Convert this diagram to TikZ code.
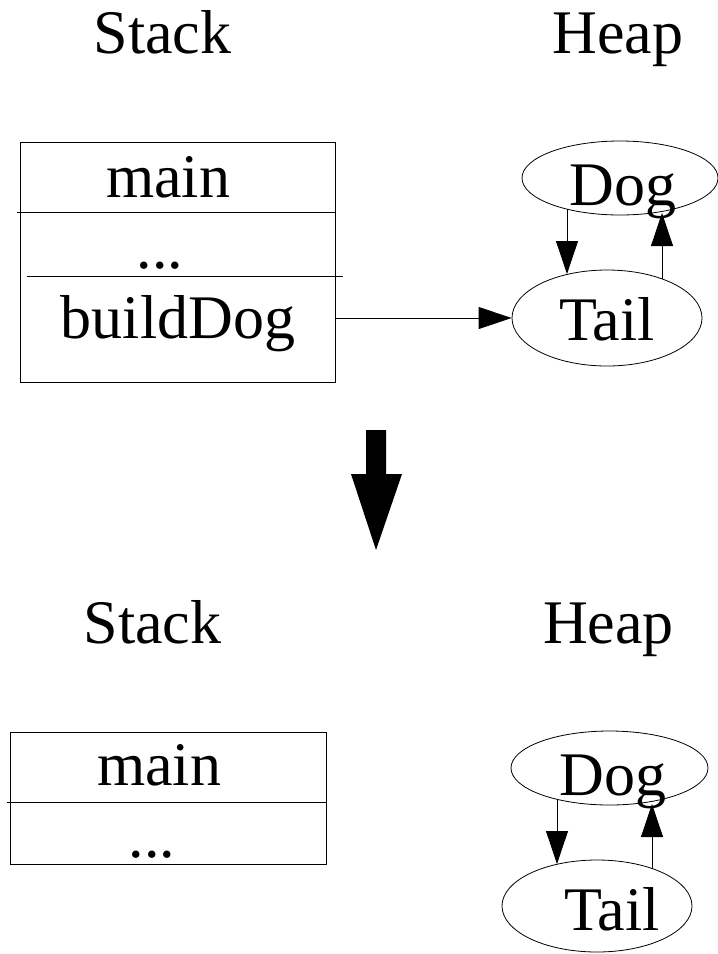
\documentclass[tikz,border=0pt]{standalone}
\usepackage{fontspec}
\setmainfont{Liberation Serif}
\usetikzlibrary{arrows.meta,calc,shapes.geometric}
\begin{document}
\begin{tikzpicture}[x=1pt,y=-1pt,
  txt/.style={anchor=base,inner sep=0pt,font=\fontsize{62}{70}\selectfont},
  framebox/.style={draw,line width=1pt,inner sep=0pt},
  heapobj/.style={draw,ellipse,line width=0.8pt,inner sep=0pt},
  ptr/.style={line width=0.8pt,-{Triangle[length=33pt,width=22pt]}},
  divider/.style={line width=1pt}]
\useasboundingbox (0,0) rectangle (718,954);

% ---------- top state ----------
\node[txt] (stackA) at (162.5,53) {Stack};
\node[txt] (heapA) at (618,53) {Heap};

\node[framebox,minimum width=315pt,minimum height=240pt] (boxA) at (177.5,262) {};
\draw[divider] ($(boxA.north west)+(-3,71)$) coordinate (dA1s) -- ($(boxA.north east)+(0,71)$) coordinate (dA1e);
\draw[divider] ($(boxA.north west)+(7,135)$) coordinate (dA2s) -- ($(boxA.north east)+(7,135)$) coordinate (dA2e);
\node[txt] (mainA) at (168,197) {main};
\node[txt] (dotsA) at (160,268) {...};
\node[txt] (buildA) at (178,338) {buildDog};

\node[heapobj,minimum width=196pt,minimum height=74pt] (dogA) at (620,178) {};
\node[txt] (dogAt) at (623,205) {Dog};
\node[heapobj,minimum width=190pt,minimum height=96pt] (tailA) at (607,318) {};
\node[txt] (tailAt) at (607,340) {Tail};

\draw[ptr] (tailA.west -| boxA.east) -- (tailA.west);
\draw[ptr] ($(dogA.center)+(-53,31)$) -- ($(tailA.center)+(-40,-44)$);
\draw[ptr] ($(tailA.center)+(55,-39)$) -- ($(dogA.center)+(42,35)$);

% ---------- big arrow ----------
\fill (366,430) -- (386,430) -- (386,474) -- (402,474) -- (376,550) -- (351,474) -- (366,474) -- cycle;

% ---------- bottom state ----------
\node[txt] (stackB) at (152.5,643) {Stack};
\node[txt] (heapB) at (608.5,643) {Heap};

\node[framebox,minimum width=316pt,minimum height=132pt] (boxB) at (168,798) {};
\draw[divider] ($(boxB.north west)+(-3,71)$) coordinate (dB1s) -- ($(boxB.north east)+(0,71)$) coordinate (dB1e);
\node[txt] (mainB) at (159,785) {main};
\node[txt] (dotsB) at (152,857) {...};

\node[heapobj,minimum width=197pt,minimum height=74pt] (dogB) at (609.5,768) {};
\node[txt] (dogBt) at (613,795) {Dog};
\node[heapobj,minimum width=190pt,minimum height=92pt] (tailB) at (597,906) {};
\node[txt] (tailBt) at (612,930) {Tail};

\draw[ptr] ($(dogB.center)+(-52.5,31)$) -- ($(tailB.center)+(-40,-42)$);
\draw[ptr] ($(tailB.center)+(55,-37.5)$) -- ($(dogB.center)+(42.5,36)$);
\end{tikzpicture}
\end{document}
